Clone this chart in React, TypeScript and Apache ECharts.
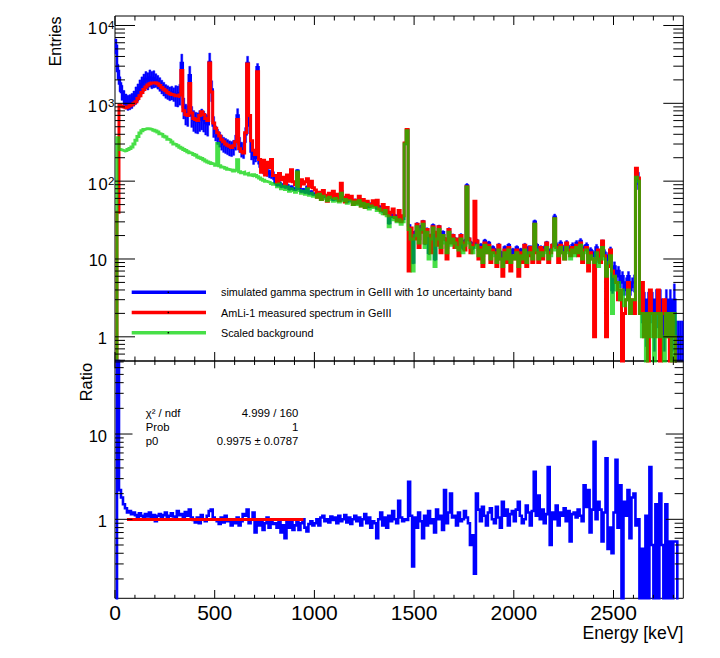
import React, { useEffect, useRef } from "react";
import * as echarts from "echarts";

// ---------------- data (10 keV bins, 0 - 2850 keV) ----------------
const BIN_WIDTH = 10;
const X_MIN = 0;
const X_MAX = 2850;
const X_LABEL_VALUES = [0, 500, 1000, 1500, 2000, 2500];
const TOP_Y_MIN = 0.489;
const TOP_Y_MAX = 13240;
const RATIO_Y_MIN = 0.1186;
const RATIO_Y_MAX = 71.8;

// AmLi-1 measured spectrum in GeIII (red)
const MEASURED = [
  0, 40, 950, 920, 900, 880, 900, 930, 960, 1000,
  1050, 1150, 1250, 1380, 1500, 1620, 1720, 1780, 1820, 1840,
  1830, 1780, 1700, 1600, 1520, 1450, 1380, 1330, 1300, 1280,
  1250, 1230, 1280, 2650, 800, 720, 700, 1800, 750, 640,
  620, 600, 700, 780, 720, 640, 600, 3300, 1400, 560,
  480, 420, 380, 340, 320, 300, 290, 280, 270, 285,
  320, 620, 260, 240, 230, 420, 3200, 700, 330, 250,
  220, 2550, 190, 130, 185, 120, 175, 150, 190, 118,
  118, 96, 125, 104, 112, 92, 120, 100, 140, 98,
  90, 128, 86, 104, 92, 98, 107, 84, 100, 82,
  77, 62, 72, 58, 76, 66, 55, 70, 62, 74,
  60, 68, 56, 94, 62, 54, 66, 58, 64, 50,
  57, 52, 64, 48, 58, 46, 55, 50, 48, 56,
  48, 57, 44, 42, 50, 38, 46, 36, 40, 44,
  34, 31, 42, 30, 36, 310, 460, 7, 25, 18,
  18, 28, 14, 22, 30, 16, 24, 20, 12, 26,
  22, 15, 26, 12, 20, 18, 10, 24, 16, 20,
  14, 18, 11, 20, 16, 13, 85, 18, 12, 15,
  55, 17, 10, 14, 8, 16, 12, 15, 9, 13,
  12, 8, 15, 10, 6, 13, 9, 14, 7, 11,
  10, 13, 6, 12, 9, 15, 8, 11, 14, 9,
  28, 12, 9, 14, 10, 13, 16, 9, 12, 15,
  33, 14, 9, 15, 12, 10, 16, 13, 11, 14,
  12, 15, 11, 16, 9, 13, 14, 7, 12, 10,
  1, 10, 13, 9, 17, 11, 1, 8, 13, 7,
  6, 5, 3, 4, 0, 2, 3, 5, 2, 3,
  2, 146, 110, 2, 5, 1, 2, 0, 4, 2,
  1, 2, 4, 0, 2, 3, 1, 2, 0, 2,
  1, 0, 0, 0, 0,
];

// Scaled background (green)
const BACKGROUND = [
  0, 360, 255, 250, 245, 248, 255, 262, 275, 300,
  335, 375, 415, 445, 462, 470, 472, 468, 460, 450,
  440, 428, 405, 398, 378, 368, 345, 338, 318, 300,
  295, 285, 272, 265, 255, 248, 238, 232, 228, 220,
  215, 205, 200, 195, 188, 182, 176, 172, 168, 165,
  160, 305, 158, 152, 150, 146, 142, 140, 138, 135,
  138, 188, 132, 128, 130, 124, 126, 120, 118, 121,
  118, 114, 110, 106, 103, 100, 98, 96, 93, 91,
  90, 85, 92, 80, 86, 78, 84, 74, 80, 76,
  72, 132, 76, 70, 74, 68, 80, 66, 70, 64,
  66, 62, 68, 58, 64, 60, 56, 62, 58, 55,
  60, 56, 54, 70, 56, 58, 52, 56, 54, 50,
  54, 50, 56, 48, 52, 46, 50, 44, 48, 46,
  46, 42, 44, 40, 38, 42, 36, 26, 34, 32,
  34, 30, 32, 28, 30, 300, 445, 24, 18, 7,
  20, 26, 16, 24, 28, 14, 22, 10, 18, 25,
  8, 18, 24, 14, 20, 16, 12, 22, 15, 18,
  16, 14, 13, 18, 12, 15, 84, 16, 14, 12,
  14, 15, 11, 13, 9, 15, 12, 14, 10, 12,
  11, 9, 13, 10, 8, 12, 10, 13, 9, 11,
  10, 12, 8, 11, 10, 13, 9, 12, 12, 10,
  28, 13, 10, 12, 11, 12, 14, 10, 11, 13,
  33, 13, 11, 14, 12, 10, 14, 12, 10, 13,
  11, 14, 12, 15, 10, 12, 13, 9, 11, 10,
  9, 12, 8, 10, 14, 10, 6, 9, 11, 2,
  6, 4, 5, 3, 4, 2.5, 3, 4, 2, 3,
  3, 112, 100, 2, 1, 2, 0, 2, 1, 2,
  0, 2, 1, 2, 1, 0, 2, 1, 2, 0,
  2, 0, 0, 0, 0,
];

// Simulated gamma spectrum (blue)
const SIMULATED = [
  5500, 2600, 1800, 1400, 1200, 1080, 1040, 1060, 1100, 1180,
  1300, 1420, 1600, 1750, 1900, 2050, 1980, 2150, 2050, 2100,
  2000, 1900, 1780, 1650, 1550, 1450, 1400, 1350, 1380, 1320,
  1300, 1280, 1350, 3300, 900, 750, 720, 2300, 700, 620,
  590, 580, 620, 650, 610, 560, 540, 3400, 1500, 520,
  420, 380, 350, 320, 300, 290, 280, 270, 265, 275,
  320, 700, 300, 260, 250, 400, 3300, 520, 240, 210,
  200, 2900, 170, 150, 140, 135, 130, 125, 122, 118,
  96, 90, 95, 86, 90, 84, 88, 80, 84, 80,
  78, 136, 80, 74, 78, 72, 84, 70, 73, 68,
  69, 66, 71, 62, 67, 63, 60, 65, 61, 58,
  63, 59, 57, 74, 59, 61, 55, 59, 57, 53,
  57, 53, 58, 51, 55, 49, 53, 47, 51, 49,
  49, 45, 47, 43, 41, 44, 39, 29, 37, 35,
  36, 33, 34, 31, 33, 305, 450, 27, 21, 9,
  22, 28, 18, 26, 30, 16, 24, 12, 20, 27,
  10, 20, 26, 16, 22, 18, 14, 24, 17, 20,
  18, 16, 15, 20, 14, 17, 88, 18, 16, 14,
  16, 17, 13, 15, 11, 17, 14, 16, 12, 14,
  13, 11, 15, 12, 10, 14, 12, 15, 11, 13,
  12, 14, 10, 13, 12, 15, 11, 14, 14, 12,
  30, 15, 12, 14, 13, 14, 16, 12, 13, 15,
  35, 15, 13, 16, 14, 12, 16, 14, 12, 15,
  13, 16, 14, 17, 12, 14, 15, 11, 13, 12,
  11, 14, 10, 12, 16, 12, 8, 11, 13, 4,
  8, 6, 7, 5, 6, 4, 5, 6, 4, 5,
  5, 120, 104, 3, 2, 3, 1, 3, 2, 3,
  1, 3, 2, 3, 2, 1, 3, 2, 3, 1,
  3, 1, 1, 1, 1,
];

// relative 1 sigma uncertainty of the simulation, per 100 keV
const SIM_REL_ERR = [
  0.22, 0.25, 0.2, 0.3, 0.3, 0.22, 0.22, 0.12, 0.05, 0.04,
  0.04, 0.04, 0.04, 0.04, 0.04, 0.05, 0.05, 0.06, 0.06, 0.06,
  0.06, 0.06, 0.08, 0.08, 0.1, 0.15, 0.25, 0.35, 0.6,
];

// Ratio (lower pad, blue)
const RATIO = [
  0, 500, 2.2, 1.8, 1.5, 1.35, 1.2, 1.25, 1.15, 1.2,
  1.12, 1.05, 1.18, 1.1, 1.0, 1.15, 1.08, 1.2, 1.05, 1.12,
  0.95, 1.1, 1.15, 1.02, 1.12, 1.2, 1.05, 1.1, 1.18, 1.08,
  1.05, 1.25, 1.12, 1.15, 1.0, 1.22, 1.1, 1.3, 1.05, 0.98,
  0.92, 1.05, 0.9, 1.12, 1.0, 0.95, 1.1, 1.25, 1.3, 1.05,
  1.0, 0.95, 0.88, 1.05, 0.92, 1.1, 0.95, 1.0, 0.85, 0.98,
  0.9, 1.05, 0.85, 0.95, 1.15, 1.1, 1.3, 0.9, 1.0, 1.2,
  0.7, 1.0, 0.85, 0.95, 0.75, 0.9, 1.05, 0.8, 0.95, 0.88,
  0.9, 0.8, 0.95, 0.7, 0.85, 0.6, 0.92, 0.8, 0.98, 0.75,
  0.85, 0.95, 0.75, 0.9, 1.0, 0.8, 0.72, 0.88, 0.95, 0.85,
  0.9, 1.0, 0.85, 1.05, 1.1, 0.95, 1.0, 0.92, 1.08, 0.98,
  1.05, 0.9, 1.1, 0.95, 1.0, 1.12, 0.92, 1.05, 0.88, 1.0,
  1.1, 0.95, 1.05, 0.85, 1.0, 1.15, 0.9, 1.05, 0.8, 0.95,
  0.9, 0.6, 1.0, 1.2, 0.85, 1.05, 0.8, 1.1, 0.95, 1.25,
  1.0, 0.9, 1.65, 1.05, 0.95, 1.0, 0.98, 2.75, 1.1, 0.28,
  1.05, 0.8, 1.2, 0.95, 0.6, 1.1, 0.85, 1.25, 0.9, 1.0,
  0.7, 1.3, 1.0, 1.1, 0.75, 2.2, 0.9, 1.2, 2.0, 1.05,
  1.1, 0.85, 1.2, 0.95, 1.0, 1.25, 1.05, 0.9, 0.5, 0.65,
  0.23, 2.0, 1.3, 0.95, 1.4, 1.1, 0.85, 1.2, 1.35, 1.0,
  0.9, 1.4, 1.05, 0.8, 1.6, 1.1, 1.3, 0.85, 1.15, 1.25,
  0.95, 1.3, 1.6, 1.1, 0.9, 1.0, 1.45, 1.2, 0.85, 1.25,
  3.6, 1.1, 1.9, 1.0, 1.3, 0.9, 1.15, 4.1, 0.5, 1.2,
  1.0, 1.45, 0.85, 1.2, 1.1, 1.35, 0.95, 1.25, 0.55, 1.15,
  1.2, 1.05, 1.3, 1.1, 0.95, 2.5, 1.4, 2.2, 0.7, 1.3,
  8.1, 1.0, 1.6, 1.3, 0.55, 1.2, 5.2, 0.45, 0.8, 0.4,
  1.2, 5.0, 0.8, 2.5, 0, 1.6, 1.1, 2.2, 0.6, 1.8,
  2.0, 0.85, 1.0, 0, 0.45, 0, 1.1, 0, 4.1, 0.5,
  0, 1.5, 0, 2.0, 0.5, 0, 1.5, 0, 0.55, 0,
  0.55, 0.55, 0, 0, 0,
];

// pol0 fit of the ratio
const FIT_P0 = 0.9975;
const FIT_RANGE = [60, 945];
const FIT_STATS = [
  ["\u03c7\u00b2 / ndf", "4.999 / 160"],
  ["Prob", "1"],
  ["p0", "0.9975 \u00b1 0.0787"],
];

const LEGEND_LABELS = [
  "simulated gamma spectrum in GeIII with 1\u03c3 uncertainty band",
  "AmLi-1 measured spectrum in GeIII",
  "Scaled background",
];

// ---------------- styling / layout ----------------
const FONT = "Liberation Sans, Arial, Helvetica, sans-serif";
const BLUE = "#0000ff";
const RED = "#ff0000";
const GREEN = "rgba(0,210,0,0.72)";
const PLOT_L = 115;
const PLOT_R = 683.3;
const TOP_T = 16;
const MID_Y = 361;
const BOT_B = 598.3;
const FLOOR = 1e-3;

function steps(values: number[]) {
  const pts: number[][] = values.map((v, i) => [i * BIN_WIDTH, v > 0 ? v : FLOOR]);
  const last = values[values.length - 1];
  pts.push([values.length * BIN_WIDTH, last > 0 ? last : FLOOR]);
  return pts;
}

function logTicks(min: number, max: number) {
  const major: number[] = [];
  const minor: number[] = [];
  for (let e = -3; e <= 6; e++) {
    const base = Math.pow(10, e);
    if (base >= min && base <= max) major.push(base);
    for (let k = 2; k <= 9; k++) {
      const v = k * base;
      if (v >= min && v <= max) minor.push(v);
    }
  }
  return { major, minor };
}

const X_MINOR: number[] = [];
for (let x = 100; x < X_MAX; x += 100) if (x % 500 !== 0) X_MINOR.push(x);

function tickSeries(gi: number, yMin: number, yMax: number, len: any) {
  const yt = logTicks(yMin, yMax);
  return {
    type: "custom",
    xAxisIndex: gi,
    yAxisIndex: gi,
    data: [[1000, 1]],
    encode: { x: 0, y: 1 },
    silent: true,
    clip: false,
    z: 30,
    renderItem: (params: any, api: any) => {
      const cs = params.coordSys;
      const L = cs.x, R = cs.x + cs.width, T = cs.y, B = cs.y + cs.height;
      const ch: any[] = [];
      const ln = (x1: number, y1: number, x2: number, y2: number) =>
        ch.push({ type: "line", shape: { x1, y1, x2, y2 }, style: { stroke: "#000", lineWidth: 1 } });
      X_LABEL_VALUES.forEach((x) => {
        const px = api.coord([x, 1])[0];
        ln(px, T, px, T + len.xtM);
        ln(px, B, px, B - len.xbM);
      });
      X_MINOR.forEach((x) => {
        const px = api.coord([x, 1])[0];
        ln(px, T, px, T + len.xtm);
        ln(px, B, px, B - len.xbm);
      });
      yt.major.forEach((y) => {
        const py = api.coord([0, y])[1];
        ln(L, py, L + len.yM, py);
        ln(R, py, R - len.yM, py);
      });
      yt.minor.forEach((y) => {
        const py = api.coord([0, y])[1];
        ln(L, py, L + len.ym, py);
        ln(R, py, R - len.ym, py);
      });
      return { type: "group", children: ch };
    },
  };
}

function logLabelFormatter(v: number) {
  const lg = Math.log10(v);
  const n = Math.round(lg);
  if (Math.abs(lg - n) > 1e-6) return "";
  if (n >= 2) return `{o|1}{z|0}{s|${n}}`;
  if (n === 1) return "{p|10}";
  if (n === 0) return "{p|1}";
  return "";
}

const logRich = {
  o: { fontSize: 16.5, fontFamily: FONT, color: "#000", padding: [5, 1.5, 0, 0] },
  z: { fontSize: 16.5, fontFamily: FONT, color: "#000", padding: [5, 0.5, 0, 0] },
  s: { fontSize: 11.6, fontFamily: FONT, color: "#000", padding: [0, 0, 1.6, 0] },
  p: { fontSize: 16.5, fontFamily: FONT, color: "#000", padding: [3, 7.5, 0, 0] },
};

export default function App() {
  const ref = useRef<HTMLDivElement>(null);

  useEffect(() => {
    document.body.style.margin = "0";
    if (!ref.current) return;
    const chart = echarts.init(ref.current, undefined, { renderer: "svg" });

    const bandData = SIMULATED.map((v, i) => {
      const err = SIM_REL_ERR[Math.floor((i * BIN_WIDTH) / 100)];
      return [i * BIN_WIDTH, (i + 1) * BIN_WIDTH, Math.max(v * (1 - err), FLOOR), Math.max(v * (1 + err), FLOOR)];
    });

    const legendY = [292.3, 312.5, 332.7];
    const legendColors = [BLUE, RED, GREEN];
    const graphics: any[] = [];
    LEGEND_LABELS.forEach((t, i) => {
      graphics.push({
        type: "line",
        shape: { x1: 131.7, y1: legendY[i], x2: 206, y2: legendY[i] },
        style: { stroke: legendColors[i], lineWidth: 3.5 },
      });
      graphics.push({
        type: "rect",
        shape: { x: 167.6, y: legendY[i] - 0.75, width: 1.5, height: 1.5 },
        style: { fill: "#000" },
      });
      graphics.push({
        type: "text",
        x: 221,
        y: legendY[i],
        style: { text: t, fontSize: 10.8, fontFamily: FONT, fill: "#000", align: "left", verticalAlign: "middle" },
      });
    });
    const statsY = [412.5, 427.3, 440.6];
    FIT_STATS.forEach((row, i) => {
      graphics.push({
        type: "text",
        x: 145.7,
        y: statsY[i],
        style: { text: row[0], fontSize: 11.3, fontFamily: FONT, fill: "#000", align: "left", verticalAlign: "middle" },
      });
      graphics.push({
        type: "text",
        x: 298.3,
        y: statsY[i],
        style: { text: row[1], fontSize: 11.3, fontFamily: FONT, fill: "#000", align: "right", verticalAlign: "middle" },
      });
    });
    graphics.push({
      type: "text",
      x: 55.5,
      y: 16.5,
      rotation: Math.PI / 2,
      style: { text: "Entries", fontSize: 16, fontFamily: FONT, fill: "#000", align: "right", verticalAlign: "middle" },
    });
    graphics.push({
      type: "text",
      x: 85.5,
      y: 363,
      rotation: Math.PI / 2,
      style: { text: "Ratio", fontSize: 16.4, fontFamily: FONT, fill: "#000", align: "right", verticalAlign: "middle" },
    });
    graphics.push({
      type: "text",
      x: PLOT_R,
      y: 633,
      style: { text: "Energy [keV]", fontSize: 17.6, fontFamily: FONT, fill: "#000", align: "right", verticalAlign: "middle" },
    });

    const hiddenAxis = {
      axisLine: { show: false },
      axisTick: { show: false },
      splitLine: { show: false },
      minorTick: { show: false },
    };

    const option: any = {
      animation: false,
      backgroundColor: "#fff",
      textStyle: { fontFamily: FONT },
      grid: [
        {
          left: PLOT_L, top: TOP_T, width: PLOT_R - PLOT_L, height: MID_Y - TOP_T,
          show: true, borderColor: "#000", borderWidth: 1, backgroundColor: "transparent",
          outerBoundsMode: "none",
        },
        {
          left: PLOT_L, top: MID_Y, width: PLOT_R - PLOT_L, height: BOT_B - MID_Y,
          show: true, borderColor: "#000", borderWidth: 1, backgroundColor: "transparent",
          outerBoundsMode: "none",
        },
      ],
      xAxis: [
        { type: "value", gridIndex: 0, min: X_MIN, max: X_MAX, interval: 500, axisLabel: { show: false }, ...hiddenAxis },
        {
          type: "value", gridIndex: 1, min: X_MIN, max: X_MAX, interval: 500, ...hiddenAxis,
          axisLabel: {
            show: true, fontSize: 21, lineHeight: 16, color: "#000", fontFamily: FONT, margin: 6,
            showMaxLabel: false,
            formatter: (v: number) => (X_LABEL_VALUES.indexOf(v) >= 0 ? String(v) : ""),
          },
        },
      ],
      yAxis: [
        {
          type: "log", logBase: 10, gridIndex: 0, min: TOP_Y_MIN, max: TOP_Y_MAX, ...hiddenAxis,
          axisLabel: {
            show: true, margin: 0.5, showMinLabel: false, showMaxLabel: false,
            formatter: logLabelFormatter, rich: logRich,
          },
        },
        {
          type: "log", logBase: 10, gridIndex: 1, min: RATIO_Y_MIN, max: RATIO_Y_MAX, ...hiddenAxis,
          axisLabel: {
            show: true, margin: 0.5, showMinLabel: false, showMaxLabel: false,
            formatter: logLabelFormatter, rich: logRich,
          },
        },
      ],
      series: [
        {
          type: "custom",
          name: "band",
          xAxisIndex: 0,
          yAxisIndex: 0,
          data: bandData,
          encode: { x: [0, 1], y: [2, 3] },
          silent: true,
          z: 1,
          renderItem: (params: any, api: any) => {
            const p0 = api.coord([api.value(0), api.value(3)]);
            const p1 = api.coord([api.value(1), api.value(2)]);
            const cs = params.coordSys;
            const shape = echarts.graphic.clipRectByRect(
              { x: p0[0], y: p0[1], width: p1[0] - p0[0], height: p1[1] - p0[1] },
              { x: cs.x, y: cs.y, width: cs.width, height: cs.height }
            );
            if (!shape) return null;
            return { type: "rect", shape, style: { fill: BLUE, stroke: BLUE, lineWidth: 0.4 } };
          },
        },
        {
          type: "line", name: "sim", xAxisIndex: 0, yAxisIndex: 0, data: steps(SIMULATED), step: "end",
          showSymbol: false, symbol: "none", silent: true, z: 2,
          lineStyle: { color: BLUE, width: 2.5, join: "miter", cap: "butt" },
        },
        {
          type: "line", name: "meas", xAxisIndex: 0, yAxisIndex: 0, data: steps(MEASURED), step: "end",
          showSymbol: false, symbol: "none", silent: true, z: 3,
          lineStyle: { color: RED, width: 3, join: "miter", cap: "butt" },
        },
        {
          type: "line", name: "bkg", xAxisIndex: 0, yAxisIndex: 0, data: steps(BACKGROUND), step: "end",
          showSymbol: false, symbol: "none", silent: true, z: 4,
          lineStyle: { color: GREEN, width: 3, join: "miter", cap: "butt" },
        },
        {
          type: "line", name: "ratio", xAxisIndex: 1, yAxisIndex: 1, data: steps(RATIO), step: "end",
          showSymbol: false, symbol: "none", silent: true, z: 5,
          lineStyle: { color: BLUE, width: 2.6, join: "miter", cap: "butt" },
        },
        {
          type: "line", name: "fit", xAxisIndex: 1, yAxisIndex: 1,
          data: [[FIT_RANGE[0], FIT_P0], [FIT_RANGE[1], FIT_P0]],
          showSymbol: false, symbol: "none", silent: true, z: 6,
          lineStyle: { color: RED, width: 3 },
        },
        tickSeries(0, TOP_Y_MIN, TOP_Y_MAX, { xtM: 9, xtm: 4.5, xbM: 9, xbm: 4.5, yM: 20, ym: 10 }),
        tickSeries(1, RATIO_Y_MIN, RATIO_Y_MAX, { xtM: 7.3, xtm: 4, xbM: 8.3, xbm: 3.5, yM: 17.5, ym: 8.7 }),
      ],
      graphic: graphics,
    };

    chart.setOption(option);
    return () => chart.dispose();
  }, []);

  return (
    <div
      ref={ref}
      style={{ position: "fixed", left: 0, top: 0, width: 720, height: 658, background: "#fff" }}
    />
  );
}
